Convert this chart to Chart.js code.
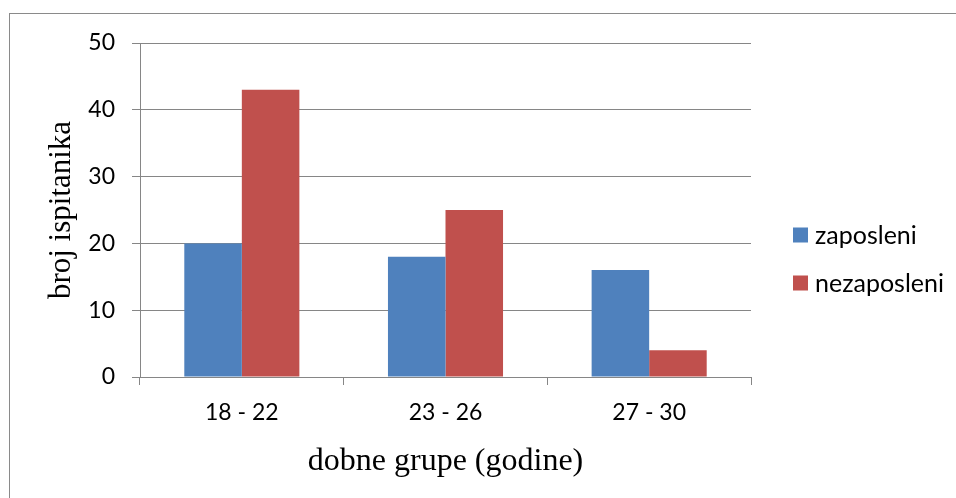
<!DOCTYPE html>
<html>
<head>
<meta charset="utf-8">
<script src="https://cdn.jsdelivr.net/npm/chart.js@4"></script>
<style>
  html, body { margin: 0; padding: 0; background: #fff; overflow: hidden; }
  #wrap { position: relative; width: 956px; height: 498px; }
  #frame { position: absolute; left: 9px; top: 13px; width: 1200px; height: 800px;
           border: 1px solid #8a8a8a; box-sizing: border-box; }
  canvas { position: absolute; left: 0; top: 0; }
</style>
</head>
<body>
<div id="wrap">
  <div id="frame"></div>
  <canvas id="chart" width="956" height="498"></canvas>
</div>
<script>
// =============================
// DATA
// =============================
const categories = ["18 - 22", "23 - 26", "27 - 30"];
const zaposleni = [20, 18, 16];
const nezaposleni = [43, 25, 4];
const seriesLabels = ["zaposleni", "nezaposleni"];
const yTicks = [0, 10, 20, 30, 40, 50];

const BLUE = "#4F81BD";
const RED = "#C0504D";
const GRID = "#868686";
const TICK_FONT = { family: "Lato", size: 23 };

// legenda ditulis sendiri biar posisinya pas
const legendPlugin = {
  id: "sideLegend",
  afterDraw(chart) {
    const ctx = chart.ctx;
    ctx.save();
    ctx.font = "25px Lato";
    ctx.textBaseline = "middle";
    chart.data.datasets.forEach((ds, i) => {
      const cy = 235 + i * 48;
      ctx.fillStyle = ds.backgroundColor;
      ctx.fillRect(793, cy - 7.5, 15, 15);
      ctx.fillStyle = "#000";
      ctx.fillText(ds.label, 815, cy + 1);
    });
    ctx.restore();
  }
};

new Chart(document.getElementById("chart"), {
  type: "bar",
  data: {
    labels: categories,
    datasets: [
      { label: seriesLabels[0], data: zaposleni, backgroundColor: BLUE },
      { label: seriesLabels[1], data: nezaposleni, backgroundColor: RED }
    ]
  },
  options: {
    responsive: false,
    animation: false,
    layout: { padding: { left: 0, top: 43, right: 205, bottom: 0 } },
    datasets: { bar: { barPercentage: 1, categoryPercentage: 0.565 } },
    plugins: {
      legend: { display: false },
      tooltip: { enabled: false }
    },
    scales: {
      x: {
        grid: { drawOnChartArea: false, drawTicks: true, tickLength: 8, color: GRID, lineWidth: 1 },
        border: { color: GRID, width: 1 },
        ticks: { color: "#000", font: TICK_FONT, padding: 14 },
        title: {
          display: true,
          text: "dobne grupe (godine)",
          color: "#000",
          font: { family: "Liberation Serif", size: 32 },
          padding: { top: 0, bottom: 17 }
        },
        afterFit(scale) { scale.height = 121; }
      },
      y: {
        min: 0,
        max: 50,
        afterBuildTicks(scale) { scale.ticks = yTicks.map(v => ({ value: v })); },
        grid: { drawTicks: true, tickLength: 8, color: GRID, lineWidth: 1 },
        border: { color: GRID, width: 1 },
        ticks: { color: "#000", font: TICK_FONT, padding: 17 },
        title: {
          display: true,
          text: "broj ispitanika",
          color: "#000",
          font: { family: "Liberation Serif", size: 31 },
          padding: { top: 43, bottom: 0 }
        },
        afterFit(scale) { scale.width = 140; }
      }
    }
  },
  plugins: [legendPlugin]
});
</script>
</body>
</html>
